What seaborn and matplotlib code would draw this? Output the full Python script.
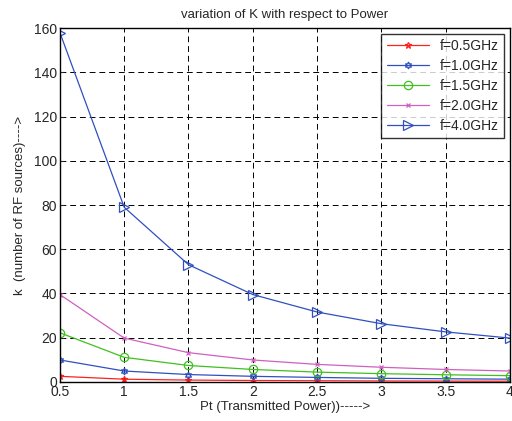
import matplotlib
matplotlib.use("Agg")
import matplotlib.pyplot as plt
import seaborn as sns
import pandas as pd

pt = [0.5, 1.0, 1.5, 2.0, 2.5, 3.0, 3.5, 4.0]
k_05 = [2.5, 1.2, 0.8, 0.6, 0.5, 0.4, 0.35, 0.3]
k_10 = [9.9, 4.9, 3.3, 2.5, 2.0, 1.6, 1.4, 1.2]
k_15 = [22.2, 11.1, 7.4, 5.6, 4.4, 3.7, 3.2, 2.8]
k_20 = [39.5, 19.8, 13.2, 9.9, 7.9, 6.6, 5.6, 4.9]
k_40 = [158, 79, 53, 39.5, 31.6, 26.3, 22.6, 19.8]
labels = ["f=0.5GHz", "f=1.0GHz", "f=1.5GHz", "f=2.0GHz", "f=4.0GHz"]

series = [k_05, k_10, k_15, k_20, k_40]
rows = []
for lab, vals in zip(labels, series):
    for x, y in zip(pt, vals):
        rows.append({"Pt": x, "k": y, "f": lab})
df = pd.DataFrame(rows)

sns.set_style("white")
plt.rcParams['font.family'] = ['Liberation Sans', 'DejaVu Sans']
fig = plt.figure(figsize=(5.12, 4.21), dpi=100)
ax = fig.add_axes([0.117, 0.093, 0.879, 0.840])

colors = ["#ff2020", "#3050c0", "#40c020", "#d060c0", "#3050c0"]
markers = ["*", (6, 1, 0), "o", "x", ">"]
msizes = [5, 5, 6, 3.5, 6.5]
for lab, c, m, ms in zip(labels, colors, markers, msizes):
    sub = df[df["f"] == lab]
    sns.lineplot(data=sub, x="Pt", y="k", ax=ax, color=c, marker=m,
                 markersize=ms, markerfacecolor="none", markeredgecolor=c,
                 markeredgewidth=0.9, linewidth=0.9, label=lab)

ax.set_xlim(0.5, 4)
ax.set_ylim(0, 160)
ax.set_xticks([0.5, 1, 1.5, 2, 2.5, 3, 3.5, 4])
ax.set_xticklabels(["0.5", "1", "1.5", "2", "2.5", "3", "3.5", "4"])
ax.set_yticks(range(0, 161, 20))
ax.grid(True, color="black", linestyle=(0, (6, 4)), linewidth=0.7)
ax.tick_params(labelsize=10, direction="in", length=3, left=True, bottom=True, pad=2)
for s in ax.spines.values():
    s.set_color("black")
    s.set_linewidth(1.0)
ax.set_xlabel("Pt (Transmitted Power))----->", fontsize=9.5, labelpad=2)
ax.set_ylabel("k  (number of RF sources)---->", fontsize=9.5, labelpad=6)
ax.set_title("variation of K with respect to Power", fontsize=9.5, pad=7)
leg = ax.legend(loc="upper right", fontsize=10, frameon=True, fancybox=False,
                edgecolor="black", borderaxespad=0.4, handlelength=3.0,
                labelspacing=0.42)
leg.get_frame().set_linewidth(1.0)
fig.savefig("out.png", dpi=100)
